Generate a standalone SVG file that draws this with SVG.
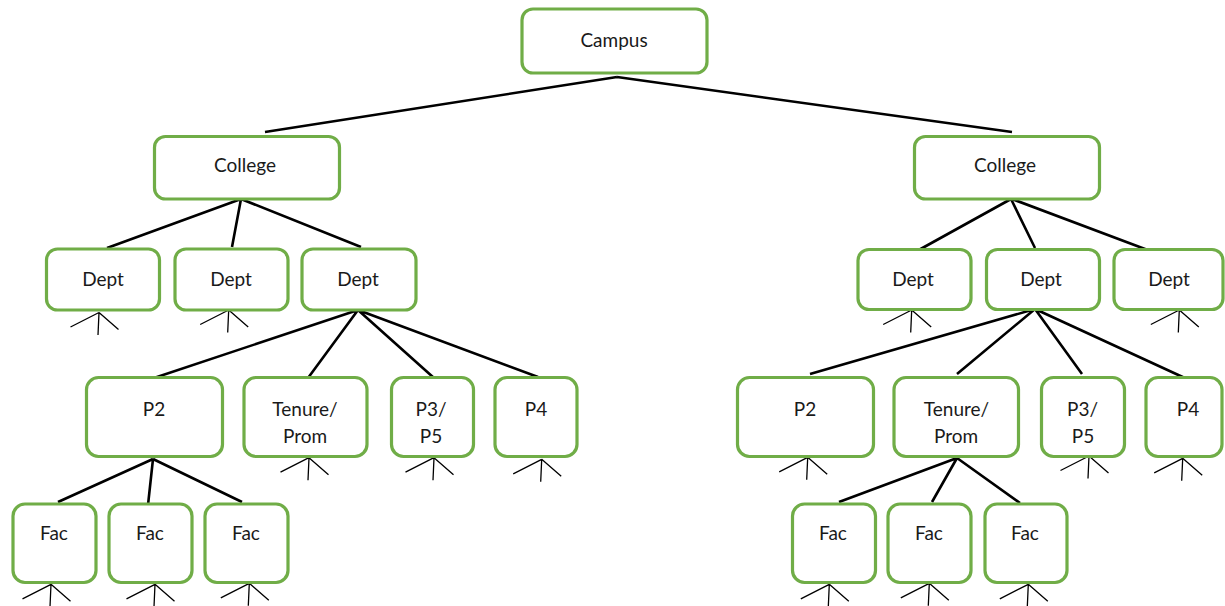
<svg xmlns="http://www.w3.org/2000/svg" xmlns:xlink="http://www.w3.org/1999/xlink" width="1225" height="606" viewBox="0 0 1225 606">
<style>
.box{fill:#fff;stroke:#70AD47;stroke-width:3.2}
.lbl{font-family:Lato,"Liberation Sans",sans-serif;font-size:19px;fill:#1a1a1a;text-anchor:middle}
.conn{stroke:#000;stroke-width:2.6;fill:none;stroke-linecap:butt}
.fan{stroke:#000;stroke-width:1.3;fill:none}
</style>
<defs>
<path id="fan" class="fan" d="M0,0 L-28.5,14.5 M0,0 L-1,22.5 M0,0 L19.5,17"/>
</defs>
<rect width="1225" height="606" fill="#fff"/>
<g id="connectors">
<path class="conn" d="M617,77 L265,132 M617,77 L1012,132"/>
<path class="conn" d="M241,199 L107,248 M241,199 L232,247 M241,199 L361,247"/>
<path class="conn" d="M1011,199 L917,251 M1011,199 L1035,248 M1012,199 L1153,252"/>
<path class="conn" d="M358,310 L154,378 M358,310 L308,378 M358,310 L434,378 M358,310 L538,377"/>
<path class="conn" d="M1035,309 L810,374 M1035,309 L957,374 M1035,309 L1082,374 M1035,309 L1187,379"/>
<path class="conn" d="M153,459 L58,502 M153,459 L148,505 M153,459 L242,502"/>
<path class="conn" d="M957,458 L839,502 M957,458 L932,502 M957,458 L1020,503"/>
<use xlink:href="#fan" x="99" y="312.5"/>
<use xlink:href="#fan" x="228.7" y="310"/>
<use xlink:href="#fan" x="911.7" y="310"/>
<use xlink:href="#fan" x="1179.3" y="310"/>
<use xlink:href="#fan" x="309" y="457.7"/>
<use xlink:href="#fan" x="434" y="457.7"/>
<use xlink:href="#fan" x="541.7" y="459.3"/>
<use xlink:href="#fan" x="807.7" y="457.3"/>
<use xlink:href="#fan" x="1089" y="456"/>
<use xlink:href="#fan" x="1182.7" y="458.3"/>
<use xlink:href="#fan" x="51" y="584.3"/>
<use xlink:href="#fan" x="155" y="584.3"/>
<use xlink:href="#fan" x="249.3" y="583.3"/>
<use xlink:href="#fan" x="829.3" y="584.3"/>
<use xlink:href="#fan" x="929.3" y="583.3"/>
<use xlink:href="#fan" x="1028.3" y="584.3"/>
</g>
<g id="campus"><rect class="box" x="522" y="9" width="185" height="64" rx="11"/><text class="lbl" x="614" y="47">Campus</text></g>
<g id="college-l"><rect class="box" x="154.5" y="136.5" width="185" height="62.5" rx="11"/><text class="lbl" x="245" y="172">College</text></g>
<g id="college-r"><rect class="box" x="914.5" y="136.5" width="185" height="62.5" rx="11"/><text class="lbl" x="1005" y="172">College</text></g>
<g id="dept-l1"><rect class="box" x="46.5" y="249" width="113" height="61" rx="11"/><text class="lbl" x="103" y="286">Dept</text></g>
<g id="dept-l2"><rect class="box" x="175" y="249" width="113" height="61" rx="11"/><text class="lbl" x="231" y="286">Dept</text></g>
<g id="dept-l3"><rect class="box" x="302" y="249" width="114" height="61" rx="11"/><text class="lbl" x="358" y="286">Dept</text></g>
<g id="dept-r1"><rect class="box" x="858" y="249.5" width="113" height="60" rx="11"/><text class="lbl" x="913" y="286">Dept</text></g>
<g id="dept-r2"><rect class="box" x="986.5" y="249.5" width="113" height="60" rx="11"/><text class="lbl" x="1041" y="286">Dept</text></g>
<g id="dept-r3"><rect class="box" x="1114" y="249.5" width="109" height="60" rx="11"/><text class="lbl" x="1169" y="286">Dept</text></g>
<g id="p2-l"><rect class="box" x="86.5" y="377.5" width="136" height="79" rx="12"/><text class="lbl" x="154" y="416">P2</text></g>
<g id="tenure-l"><rect class="box" x="244" y="377.5" width="123" height="79" rx="12"/><text class="lbl" x="305" y="416">Tenure/</text><text class="lbl" x="305" y="443">Prom</text></g>
<g id="p35-l"><rect class="box" x="391.5" y="377.5" width="82" height="79" rx="12"/><text class="lbl" x="431" y="416">P3/</text><text class="lbl" x="431" y="443">P5</text></g>
<g id="p4-l"><rect class="box" x="495" y="377.5" width="82" height="79" rx="12"/><text class="lbl" x="536" y="416">P4</text></g>
<g id="p2-r"><rect class="box" x="737.5" y="377.5" width="136" height="79" rx="12"/><text class="lbl" x="805" y="416">P2</text></g>
<g id="tenure-r"><rect class="box" x="894" y="377.5" width="124.5" height="79" rx="12"/><text class="lbl" x="956.5" y="416">Tenure/</text><text class="lbl" x="956" y="443">Prom</text></g>
<g id="p35-r"><rect class="box" x="1041.5" y="377.5" width="83" height="79" rx="12"/><text class="lbl" x="1082.5" y="416">P3/</text><text class="lbl" x="1083" y="443">P5</text></g>
<g id="p4-r"><rect class="box" x="1146" y="377.5" width="76" height="79" rx="12"/><text class="lbl" x="1188" y="416">P4</text></g>
<g id="fac-l1"><rect class="box" x="13" y="504" width="83" height="78.5" rx="12"/><text class="lbl" x="54" y="540">Fac</text></g>
<g id="fac-l2"><rect class="box" x="109" y="504" width="83" height="78.5" rx="12"/><text class="lbl" x="150" y="540">Fac</text></g>
<g id="fac-l3"><rect class="box" x="205" y="504" width="83" height="78.5" rx="12"/><text class="lbl" x="246" y="540">Fac</text></g>
<g id="fac-r1"><rect class="box" x="792.5" y="504" width="83" height="78.5" rx="12"/><text class="lbl" x="833" y="540">Fac</text></g>
<g id="fac-r2"><rect class="box" x="888" y="504" width="83" height="78.5" rx="12"/><text class="lbl" x="929" y="540">Fac</text></g>
<g id="fac-r3"><rect class="box" x="985" y="504" width="82" height="78.5" rx="12"/><text class="lbl" x="1025" y="540">Fac</text></g>
</svg>
